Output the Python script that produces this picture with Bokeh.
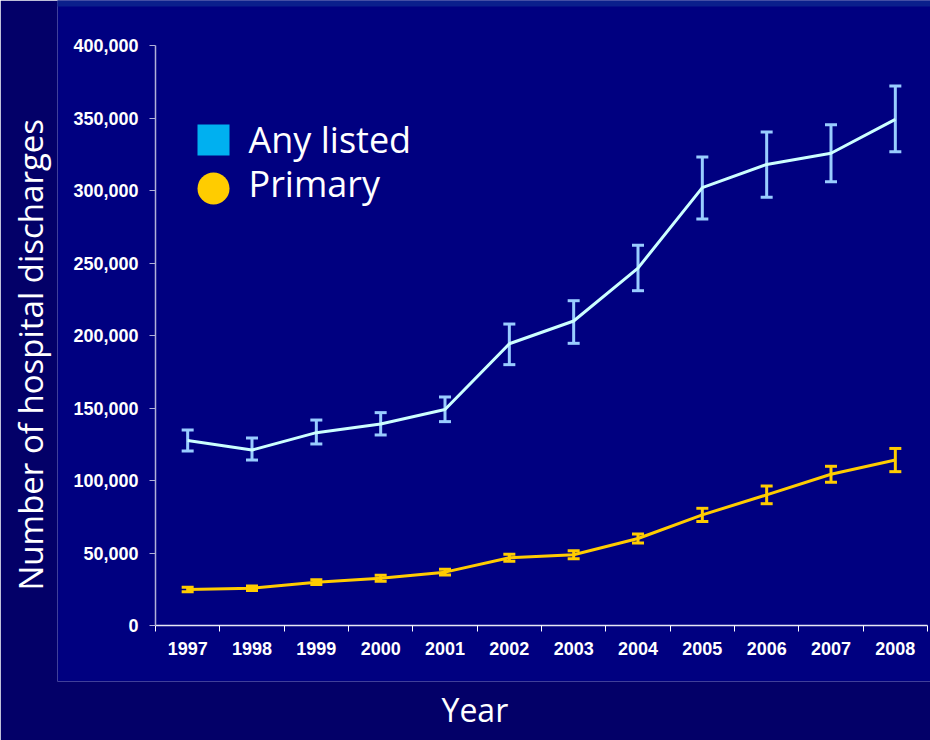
from bokeh.plotting import figure
from bokeh.models import (Range1d, FixedTicker, NumeralTickFormatter, Whisker, TeeHead,
                          ColumnDataSource, BoxAnnotation, Label, LinearAxis, Title)
from bokeh.embed import file_html
from bokeh.resources import INLINE

# ---- data ----
years = [1997, 1998, 1999, 2000, 2001, 2002, 2003, 2004, 2005, 2006, 2007, 2008]
year_labels = [str(y) for y in years]

any_listed = [127600, 121000, 133000, 139000, 149000, 194300, 210000, 246500, 302000, 318000, 325700, 349000]
any_upper = [134800, 129300, 141700, 146800, 157600, 207900, 224000, 262200, 323100, 340300, 345400, 372100]
any_lower = [120300, 114100, 125200, 131400, 140600, 179900, 194600, 230900, 280300, 295300, 306100, 326800]

primary = [24800, 25700, 29900, 32600, 36800, 46700, 48800, 60000, 76300, 90100, 104300, 114100]
primary_err = [1500, 1600, 1700, 2000, 2000, 2400, 2800, 3100, 4500, 6100, 5500, 8000]
primary_upper = [v + e for v, e in zip(primary, primary_err)]
primary_lower = [v - e for v, e in zip(primary, primary_err)]

y_ticks = [0, 50000, 100000, 150000, 200000, 250000, 300000, 350000, 400000]
series_names = ["Any listed", "Primary"]
x_title = "Year"
y_title = "Number of hospital discharges"

# ---- layout geometry (pixels) ----
W, H = 930, 740
PANEL_LEFT, PANEL_BOTTOM = 57, 681          # slide panel edges on the canvas
AX_LEFT, AX_RIGHT, AX_TOP, AX_BOTTOM = 155, 927, 45, 625   # axis box on the canvas
Y_MIN, Y_MAX = 0, 400000
X_MIN, X_MAX = years[0] - 0.5, years[-1] + 0.5

px_per_x = (AX_RIGHT - AX_LEFT) / (X_MAX - X_MIN)
px_per_y = (AX_BOTTOM - AX_TOP) / (Y_MAX - Y_MIN)
xr = Range1d(X_MIN - (AX_LEFT - PANEL_LEFT) / px_per_x, X_MAX + (W - AX_RIGHT) / px_per_x)
yr = Range1d(Y_MIN - (PANEL_BOTTOM - AX_BOTTOM) / px_per_y, Y_MAX + AX_TOP / px_per_y)

# ---- styles ----
OUTER = "#030068"
PANEL = "#000080"
STRIPE = "#0A1F8C"
ANY_LINE = "#CCFFFF"
ANY_ERR = "#99CCFF"
PRIM = "#FFCC00"
SWATCH_ANY = "#00B0F0"
THIN_FONT = "Open Sans"

p = figure(width=W, height=H, output_backend="svg", toolbar_location=None, tools="",
           x_range=xr, y_range=yr, x_axis_type=None, y_axis_type=None,
           min_border_left=PANEL_LEFT, min_border_right=0, min_border_top=0,
           min_border_bottom=H - PANEL_BOTTOM)
p.background_fill_color = PANEL
p.border_fill_color = OUTER
p.outline_line_color = None
p.outline_line_alpha = 0
p.grid.visible = False


def screen_box(left, right, top, bottom, color, level="annotation", **kw):
    return BoxAnnotation(left=left, right=right, top=top, bottom=bottom,
                         left_units="screen", right_units="screen",
                         top_units="screen", bottom_units="screen",
                         fill_color=color, fill_alpha=1, line_color=None, level=level, **kw)


def sx(cx):  # canvas x -> frame screen x
    return cx - PANEL_LEFT


def sy(cy):  # canvas y -> frame screen y (up from frame bottom)
    return PANEL_BOTTOM - cy


# top stripe of the slide
p.add_layout(screen_box(sx(0) - 10, sx(W) + 10, sy(0) + 10, sy(6), STRIPE, level="image"))

# ---- series ----
src_any = ColumnDataSource(dict(x=years, y=any_listed, upper=any_upper, lower=any_lower))
src_pri = ColumnDataSource(dict(x=years, y=primary, upper=primary_upper, lower=primary_lower))

p.add_layout(Whisker(base="x", upper="upper", lower="lower", source=src_any, dimension="height",
                     line_color=ANY_ERR, line_width=3,
                     upper_head=TeeHead(size=12, line_color=ANY_ERR, line_width=3),
                     lower_head=TeeHead(size=12, line_color=ANY_ERR, line_width=3)))
p.add_layout(Whisker(base="x", upper="upper", lower="lower", source=src_pri, dimension="height",
                     line_color=PRIM, line_width=3,
                     upper_head=TeeHead(size=12, line_color=PRIM, line_width=3),
                     lower_head=TeeHead(size=12, line_color=PRIM, line_width=3)))

p.line("x", "y", source=src_any, line_color=ANY_LINE, line_width=3)
p.line("x", "y", source=src_pri, line_color=PRIM, line_width=3)

# ---- axes (fixed inside the slide panel) ----
xa = LinearAxis(fixed_location=Y_MIN, bounds=(X_MIN, X_MAX))
xa.ticker = FixedTicker(ticks=years, minor_ticks=[y - 0.5 for y in years] + [X_MAX])
xa.major_label_overrides = {y: l for y, l in zip(years, year_labels)}
xa.major_tick_out = 0
xa.major_tick_in = 0
xa.minor_tick_out = 6
xa.minor_tick_in = 0
xa.minor_tick_line_color = "#FFFFFF"
xa.axis_line_color = "#E8E8F4"
xa.axis_line_width = 1.5
xa.major_label_text_color = "#FFFFFF"
xa.major_label_text_font = "Liberation Sans"
xa.major_label_text_font_style = "bold"
xa.major_label_text_font_size = "18px"
xa.major_label_standoff = 10
p.add_layout(xa, "below")

ya = LinearAxis(fixed_location=X_MIN, bounds=(Y_MIN, Y_MAX))
ya.ticker = FixedTicker(ticks=y_ticks)
ya.formatter = NumeralTickFormatter(format="0,0")
ya.minor_tick_line_color = None
ya.major_tick_out = 6
ya.major_tick_in = 0
ya.major_tick_line_color = "#B0B0D8"
ya.axis_line_color = "#B0B0D8"
ya.axis_line_width = 1.5
ya.major_label_text_color = "#FFFFFF"
ya.major_label_text_font = "Liberation Sans"
ya.major_label_text_font_style = "bold"
ya.major_label_text_font_size = "18px"
ya.major_label_standoff = 11
p.add_layout(ya, "left")

# axis titles placed in the side panels where the slide put them
p.add_layout(Title(text=x_title, align="left", offset=441 - PANEL_LEFT,
                   text_font=THIN_FONT, text_font_style="normal", text_font_size="32px",
                   text_color="#FFFFFF", standoff=8), "below")
p.add_layout(Title(text=y_title, align="left", offset=PANEL_BOTTOM - 590,
                   text_font=THIN_FONT, text_font_style="normal", text_font_size="33px",
                   text_color="#FFFFFF", standoff=10), "left")

# ---- legend (swatches + labels) ----
p.add_layout(screen_box(sx(197), sx(229), sy(124), sy(155), SWATCH_ANY))
p.add_layout(screen_box(sx(197), sx(229), sy(172), sy(204), PRIM, border_radius=16))
for name, ybase in zip(series_names, [486 + 56, 442 + 56]):
    p.add_layout(Label(x=sx(248), y=ybase, x_units="screen", y_units="screen", text=name,
                       text_font=THIN_FONT, text_font_size="36px", text_color="#FFFFFF",
                       text_baseline="alphabetic", text_align="left"))

open("out.html", "w").write(file_html(p, INLINE))
